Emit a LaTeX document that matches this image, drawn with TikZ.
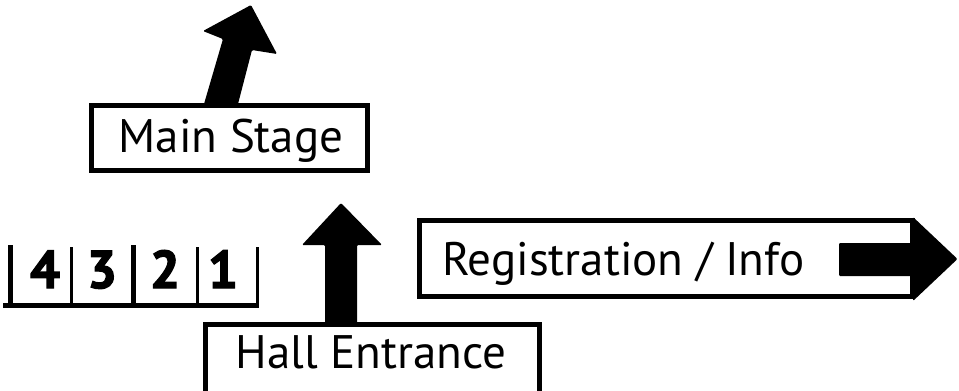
\documentclass[tikz,border=0pt]{standalone}
\usepackage{fontspec}
\setmainfont{PT Sans}
\newfontfamily\digitfont[FakeBold=2.5]{PT Sans Bold}
\begin{document}
\begin{tikzpicture}[x=1pt,y=-1pt,
  signbox/.style={draw=black, line width=4.8pt, fill=white, inner sep=0pt, minimum width=#1},
  signtxt/.style={font=\fontsize{47}{54}\selectfont, inner sep=0pt, anchor=base},
  digit/.style={font=\fontsize{53}{60}\digitfont, inner sep=0pt, anchor=base},
  solid arrow/.style={fill=black, rounded corners=1.2pt},
  rack/.style={draw=black, line width=#1, line cap=butt}]
\useasboundingbox (0,0) rectangle (959,391);
\clip (0,0) rectangle (959,391);

% Main Stage sign with bent arrow
\fill[solid arrow] (204,104) -- (223,39) -- (203,31) -- (251,5) -- (277,54) -- (252,50) -- (238,104) -- cycle;
\node[signbox=276.2pt, minimum height=65.2pt] (stagebox) at (229.5,138) {};
\node[signtxt] (stagetxt) at (231,152) {Main Stage};

% Hall Entrance sign with straight arrow
\node[signbox=334.2pt, minimum height=83.2pt] (hallbox) at (372.5,366) {};
\node[signtxt] (halltxt) at (371,368) {Hall Entrance};
\fill[solid arrow] (325,323) -- (325,245) -- (302,245) -- (341,203) -- (382,245) -- (357,245) -- (357,323) -- cycle;

% Registration / Info sign
\node[signbox=493.2pt, minimum height=76.2pt] (regbox) at (666,258.5) {};
\node[signtxt, anchor=base west] (regtxt) at (442,275) {Registration / Info};
\fill[solid arrow] (839,243) rectangle (916,276);
\fill[solid arrow] (913,217) -- (957.5,259) -- (913,301) -- cycle;

% numbered rack
\draw[rack=5pt] (10.5,245) -- (10.5,307);
\draw[rack=4.5pt] (3,305.5) -- (259,305.5);
\draw[rack=3pt] (71,247) -- (71,305);
\draw[rack=5pt] (133,245) -- (133,305);
\draw[rack=3pt] (197,247) -- (197,305);
\draw[rack=3pt] (257,247) -- (257,305);
\node[digit] (d4) at (45,288) {4};
\node[digit] (d3) at (102,288) {3};
\node[digit] (d2) at (165,288) {2};
\node[digit] (d1) at (223,288) {1};
\end{tikzpicture}
\end{document}
